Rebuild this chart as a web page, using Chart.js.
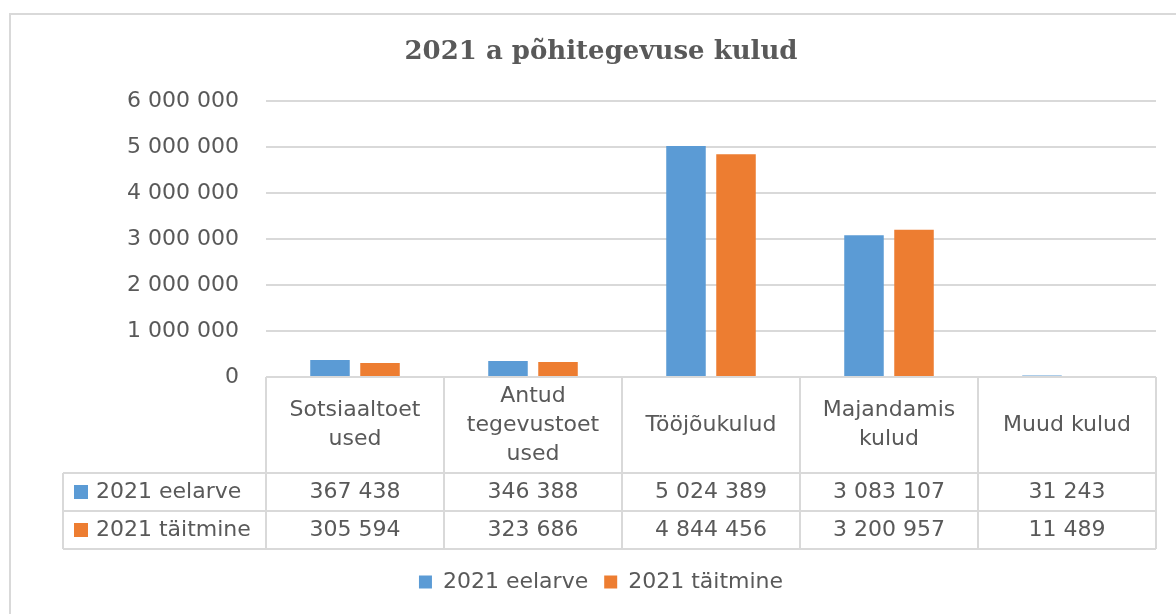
<!DOCTYPE html>
<html>
<head>
<meta charset="utf-8">
<script src="https://cdn.jsdelivr.net/npm/chart.js@4/dist/chart.umd.min.js"></script>
<style>
  html, body { margin: 0; padding: 0; background: #fff; }
  #wrap { width: 1176px; height: 614px; }
</style>
</head>
<body>
<div id="wrap"><canvas id="kulud-chart" width="1176" height="614"></canvas></div>
<script>
const categories = ['Sotsiaaltoetused', 'Antud tegevustoetused', 'Tööjõukulud', 'Majandamiskulud', 'Muud kulud'];
const headerLines = [['Sotsiaaltoet', 'used'], ['Antud', 'tegevustoet', 'used'], ['Tööjõukulud'], ['Majandamis', 'kulud'], ['Muud kulud']];
const seriesNames = ['2021 eelarve', '2021 täitmine'];
const eelarve = [367438, 346388, 5024389, 3083107, 31243];
const taitmine = [305594, 323686, 4844456, 3200957, 11489];
const seriesColors = ['#5B9BD5', '#ED7D31'];
const yMin = 0, yMax = 6000000, yStep = 1000000;

const TEXT = '#595959';
const LINE = '#d9d9d9';
const FONT = '"DejaVu Sans", sans-serif';

function fmt(n) {
  return String(n).replace(/\B(?=(\d{3})+(?!\d))/g, ' ');
}

// white background + grey chart frame (right/bottom edges run off the picture)
const framePlugin = {
  id: 'frame',
  beforeDraw(chart) {
    const ctx = chart.ctx;
    ctx.save();
    ctx.fillStyle = '#fff';
    ctx.fillRect(0, 0, chart.width, chart.height);
    ctx.strokeStyle = LINE;
    ctx.lineWidth = 2;
    ctx.strokeRect(10, 14, chart.width + 40, chart.height + 40);
    ctx.restore();
  }
};

// Excel style data table under the plot area, columns follow the x scale
const tablePlugin = {
  id: 'dataTable',
  afterDraw(chart) {
    const ctx = chart.ctx;
    const x = chart.scales.x;
    const area = chart.chartArea;
    const n = categories.length;
    const colW = (area.right - area.left) / n;
    const top = area.bottom;
    const headH = 96, rowH = 38;
    const labelLeft = area.left - 203;
    const r1 = top + headH, r2 = r1 + rowH, r3 = r2 + rowH;

    ctx.save();
    ctx.strokeStyle = LINE;
    ctx.lineWidth = 2;
    ctx.beginPath();
    ctx.moveTo(area.left, top); ctx.lineTo(area.right, top);
    [r1, r2, r3].forEach(y => { ctx.moveTo(labelLeft, y); ctx.lineTo(area.right, y); });
    for (let i = 0; i <= n; i++) {
      const bx = area.left + i * colW;
      ctx.moveTo(bx, top); ctx.lineTo(bx, r3);
    }
    ctx.moveTo(labelLeft, r1); ctx.lineTo(labelLeft, r3);
    ctx.stroke();

    ctx.fillStyle = TEXT;
    ctx.font = '22px ' + FONT;
    ctx.textAlign = 'center';
    ctx.textBaseline = 'middle';
    const lh = 29;
    headerLines.forEach((lines, i) => {
      const cx = x.getPixelForValue(i);
      const cy = top + headH / 2 - (lines.length - 1) * lh / 2;
      lines.forEach((t, k) => ctx.fillText(t, cx, cy + k * lh));
    });

    const rows = [eelarve, taitmine];
    rows.forEach((vals, r) => {
      const cy = r1 + rowH * r + rowH / 2;
      vals.forEach((v, i) => {
        ctx.textAlign = 'center';
        ctx.fillText(fmt(v), x.getPixelForValue(i), cy);
      });
      ctx.fillStyle = seriesColors[r];
      ctx.fillRect(labelLeft + 11, cy - 7, 14, 14);
      ctx.fillStyle = TEXT;
      ctx.textAlign = 'left';
      ctx.fillText(seriesNames[r], labelLeft + 33, cy);
    });
    ctx.restore();
  }
};

new Chart(document.getElementById('kulud-chart'), {
  type: 'bar',
  data: {
    labels: categories,
    datasets: [
      { label: seriesNames[0], data: eelarve, backgroundColor: seriesColors[0] },
      { label: seriesNames[1], data: taitmine, backgroundColor: seriesColors[1] }
    ]
  },
  options: {
    responsive: false,
    devicePixelRatio: 1,
    animation: false,
    datasets: { bar: { categoryPercentage: 0.562, barPercentage: 0.79 } },
    layout: { padding: { left: 46, right: 20, top: 20, bottom: 11 } },
    scales: {
      x: {
        ticks: { display: false },
        grid: { display: false },
        border: { display: false },
        afterFit(scale) { scale.height = 178; }
      },
      y: {
        min: yMin,
        max: yMax,
        ticks: {
          stepSize: yStep,
          padding: 27,
          color: TEXT,
          font: { family: FONT, size: 22 },
          callback: v => fmt(v)
        },
        grid: { color: LINE, lineWidth: 2, drawTicks: false },
        border: { display: false },
        afterFit(scale) { scale.width = 220; }
      }
    },
    plugins: {
      title: {
        display: true,
        text: '2021 a põhitegevuse kulud',
        color: TEXT,
        font: { family: '"DejaVu Serif", serif', size: 26, weight: 'bold' },
        padding: { top: 17, bottom: 33 }
      },
      legend: {
        position: 'bottom',
        labels: {
          color: TEXT,
          font: { family: FONT, size: 22 },
          boxWidth: 13,
          boxHeight: 13,
          padding: 16
        }
      },
      tooltip: { enabled: false }
    }
  },
  plugins: [framePlugin, tablePlugin]
});
</script>
</body>
</html>
